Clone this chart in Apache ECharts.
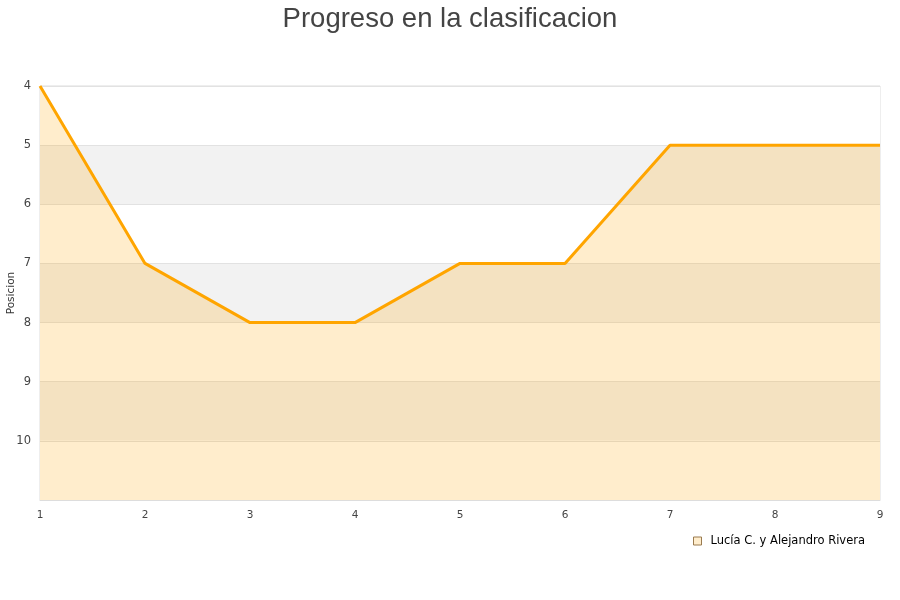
<!DOCTYPE html>
<html><head><meta charset="utf-8">
<script src="https://cdn.jsdelivr.net/npm/echarts@6/dist/echarts.min.js"></script>
<style>html,body{margin:0;padding:0;background:#fff}#c{width:900px;height:600px}</style>
</head><body><div id="c"></div>
<script>
const rounds = [1, 2, 3, 4, 5, 6, 7, 8, 9];
const positions = [4, 7, 8, 8, 7, 7, 5, 5, 5];
const seriesName = 'Lucía C. y Alejandro Rivera';
const titleText = 'Progreso en la clasificacion';
const yName = 'Posicion';

const chart = echarts.init(document.getElementById('c'));
chart.setOption({
  animation: false,
  title: { text: titleText, left: 'center', top: 0,
    textStyle: { fontFamily: 'Liberation Sans, Arial, sans-serif', fontSize: 27.5, fontWeight: 'normal', color: '#444' } },
  grid: { left: 40, right: 20, top: 86, bottom: 100, containLabel: false, outerBoundsMode: 'none',
    show: true, borderColor: '#ddd', borderWidth: 1 },
  legend: { right: 30, bottom: 48, itemWidth: 8, itemHeight: 8, icon: 'rect', itemGap: 6,
    textStyle: { fontFamily: 'DejaVu Sans, sans-serif', fontSize: 11.5, color: '#000', padding: [0, 0, 0, 4] },
    data: [{ name: seriesName, itemStyle: { color: '#ffedcc', borderColor: '#9a7b4f', borderWidth: 1 } }] },
  xAxis: { type: 'value', min: 1, max: 9, interval: 1,
    axisLine: { show: true, lineStyle: { color: '#ddd' } }, axisTick: { show: false },
    splitLine: { show: false },
    axisLabel: { color: '#444', fontFamily: 'DejaVu Sans, sans-serif', fontSize: 10.5, margin: 10 } },
  yAxis: { type: 'value', inverse: true, min: 4, max: 11, interval: 1,
    name: yName, nameLocation: 'middle', nameGap: 23, nameRotate: 90, nameMoveOverlap: false,
    nameTextStyle: { fontFamily: 'DejaVu Sans, sans-serif', fontSize: 10.5, color: '#333' },
    axisLine: { show: false }, axisTick: { show: false },
    axisLabel: { color: '#444', fontFamily: 'DejaVu Sans, sans-serif', fontSize: 11.5, margin: 9,
      formatter: v => (v >= 11 ? '' : String(v)) },
    splitLine: { show: true, lineStyle: { color: '#e2e2e2' } },
    splitArea: { show: true, areaStyle: { color: ['#ffffff', '#f2f2f2'] } } },
  series: [{
    name: seriesName, type: 'line', data: rounds.map((r, i) => [r, positions[i]]),
    showSymbol: false, symbol: 'none',
    lineStyle: { color: '#ffa500', width: 3 },
    itemStyle: { color: '#ffedcc' },
    areaStyle: { origin: 'end', color: 'rgba(255,165,0,0.2)', opacity: 1 }
  }]
});
</script></body></html>
